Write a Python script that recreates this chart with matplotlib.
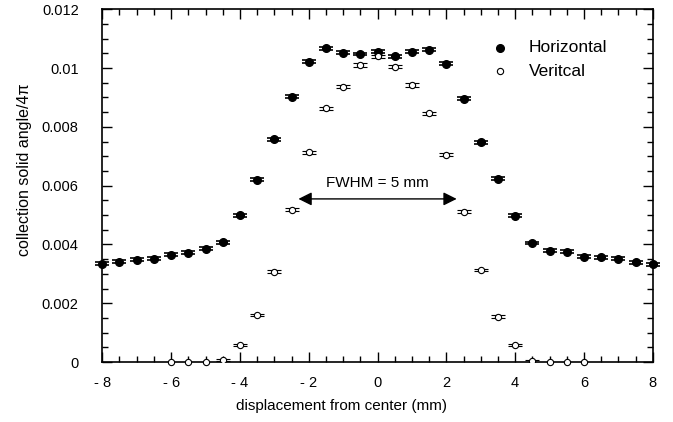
import numpy as np
import matplotlib
matplotlib.use("Agg")
import matplotlib.pyplot as plt
from matplotlib.ticker import MultipleLocator

plt.rcParams['font.family'] = ['Liberation Sans', 'DejaVu Sans']

# displacement positions (mm)
x_pos = np.arange(-8, 8.01, 0.5)

# horizontal scan
horiz = [0.00334, 0.00342, 0.00348, 0.00352, 0.00365, 0.00372, 0.00385, 0.00408,
         0.00499, 0.00620, 0.00758, 0.00903, 0.01022, 0.01068, 0.01053, 0.01048,
         0.01056, 0.01040, 0.01056, 0.01062, 0.01015, 0.00896, 0.00747, 0.00624,
         0.00497, 0.00405, 0.00379, 0.00375, 0.00359, 0.00356, 0.00351, 0.00339,
         0.00333]
horiz_err = [0.00005] * len(horiz)

# vertical scan (only -6 .. 6 mm)
vert_x = np.arange(-6, 6.01, 0.5)
vert = [0.0, 0.0, 0.0, 0.00007, 0.00059, 0.00161, 0.00308, 0.00518, 0.00714,
        0.00864, 0.00937, 0.01011, 0.01040, 0.01005, 0.00943, 0.00847, 0.00705,
        0.00512, 0.00314, 0.00155, 0.00059, 0.00002, 0.0, 0.0, 0.0]
vert_err = [0.0, 0.0, 0.0, 0.00005, 0.00004, 0.00004, 0.00004, 0.00005,
            0.00005, 0.00005, 0.00006, 0.00006, 0.00006, 0.00006, 0.00006, 0.00005,
            0.00005, 0.00005, 0.00004, 0.00004, 0.00004, 0.00005, 0.0, 0.0, 0.0]

x_ticks = [-8, -6, -4, -2, 0, 2, 4, 6, 8]
x_labels = ['- 8', '- 6', '- 4', '- 2', '0', '2', '4', '6', '8']
y_ticks = [0, 0.002, 0.004, 0.006, 0.008, 0.01, 0.012]
y_labels = ['0', '0.002', '0.004', '0.006', '0.008', '0.01', '0.012']

fig = plt.figure(figsize=(6.73, 4.22), dpi=100)
ax = fig.add_axes([0.152, 0.142, 0.818, 0.836])

ax.errorbar(x_pos, horiz, yerr=horiz_err, fmt='o', color='black', ms=5.5,
            capsize=5, elinewidth=1, capthick=1.2, clip_on=False, zorder=3)

# points sitting on zero get no bars
vx = np.array(vert_x)
vy = np.array(vert)
ve = np.array(vert_err)
zero = vy == 0
ax.errorbar(vx[~zero], vy[~zero], yerr=ve[~zero], fmt='o', color='black', mfc='white',
            ms=4.5, mew=0.8, capsize=5, elinewidth=0.8, capthick=1, zorder=3)
ax.plot(vx[zero], vy[zero], 'o', color='black', mfc='white', ms=4.5, mew=0.8,
        zorder=3, clip_on=False)

ax.set_xlim(-8, 8)
ax.set_ylim(0, 0.012)
ax.set_xticks(x_ticks)
ax.set_xticklabels(x_labels)
ax.set_yticks(y_ticks)
ax.set_yticklabels(y_labels)
ax.xaxis.set_minor_locator(MultipleLocator(0.5))
ax.yaxis.set_minor_locator(MultipleLocator(0.0005))
ax.tick_params(which='both', direction='in', top=True, right=True, labelsize=10.5)
ax.tick_params(which='major', length=7, width=1)
ax.tick_params(which='minor', length=4, width=1)
ax.tick_params(axis='x', pad=10)
ax.tick_params(axis='y', pad=17)
for s in ax.spines.values():
    s.set_linewidth(1.2)

ax.set_xlabel('displacement from center (mm)', fontsize=11)
ax.set_ylabel('collection solid angle/4π', fontsize=11.5)
ax.xaxis.set_label_coords(0.434, -0.104)
ax.yaxis.set_label_coords(-0.128, 0.545)

# FWHM arrow
ax.annotate('', xy=(-2.3, 0.00555), xytext=(2.3, 0.00555),
            arrowprops=dict(arrowstyle='<|-|>', color='black', lw=1,
                            mutation_scale=20, shrinkA=0, shrinkB=0))
ax.text(0, 0.0061, 'FWHM = 5 mm', ha='center', va='center', fontsize=11)

# legend
ax.plot([3.55], [0.0107], 'o', color='black', ms=5.5)
ax.plot([3.55], [0.0099], 'o', color='black', mfc='white', ms=4.5, mew=0.8)
ax.text(4.4, 0.0107, 'Horizontal', va='center', fontsize=12.5)
ax.text(4.4, 0.0099, 'Veritcal', va='center', fontsize=12.5)

fig.savefig('out.png', dpi=100)
